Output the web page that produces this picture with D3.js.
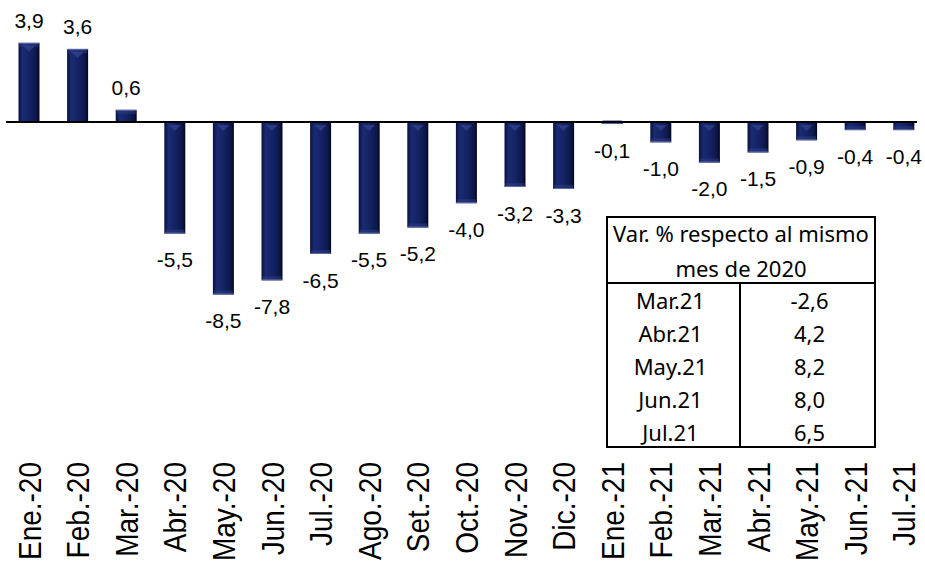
<!DOCTYPE html>
<html>
<head>
<meta charset="utf-8">
<script src="https://cdn.jsdelivr.net/npm/d3@7"></script>
<style>
  body { margin: 0; background: #fff; }
  svg { display: block; }
</style>
</head>
<body>
<div id="chart-area"></div>
<script>
// monthly variation, %
const categories = ["Ene.-20", "Feb.-20", "Mar.-20", "Abr.-20", "May.-20", "Jun.-20", "Jul.-20",
  "Ago.-20", "Set.-20", "Oct.-20", "Nov.-20", "Dic.-20", "Ene.-21", "Feb.-21", "Mar.-21",
  "Abr.-21", "May.-21", "Jun.-21", "Jul.-21"]
const values = [3.9, 3.6, 0.6, -5.5, -8.5, -7.8, -6.5, -5.5, -5.2, -4.0, -3.2, -3.3,
  -0.1, -1.0, -2.0, -1.5, -0.9, -0.4, -0.4]

// inset table
const tableTitle = ["Var. % respecto al mismo", "mes de 2020"]
const tableMonths = ["Mar.21", "Abr.21", "May.21", "Jun.21", "Jul.21"]
const tableValues = [-2.6, 4.2, 8.2, 8.0, 6.5]

const WIDTH = 925
const HEIGHT = 562

const locale = d3.formatLocale({ decimal: ",", thousands: ".", grouping: [3], currency: ["", ""], minus: "-" })
const fmt = locale.format(".1f")

const svg = d3.select("#chart-area").append("svg")
  .attr("width", WIDTH)
  .attr("height", HEIGHT)

const defs = svg.append("defs")
const grad = defs.append("linearGradient")
  .attr("id", "barGrad")
  .attr("x1", "0%").attr("x2", "100%")
  .attr("y1", "0%").attr("y2", "0%")
grad.append("stop").attr("offset", "0%").attr("stop-color", "#0a1140")
grad.append("stop").attr("offset", "20%").attr("stop-color", "#1a2b72")
grad.append("stop").attr("offset", "55%").attr("stop-color", "#142263")
grad.append("stop").attr("offset", "85%").attr("stop-color", "#0c174a")
grad.append("stop").attr("offset", "100%").attr("stop-color", "#03061c")

const x = d3.scaleBand()
  .domain(categories)
  .range([4.7, 928.1])
  .paddingInner(0.568)
  .paddingOuter(0.284)

const y = d3.scaleLinear()
  .domain([-10, 4])
  .range([325, 40.8])

const data = categories.map(function(c, i) { return { name: c, value: values[i] } })

const g = svg.append("g")

// bars
const bars = g.selectAll("g.bar")
  .data(data)
  .enter().append("g")
  .attr("class", "bar")

bars.append("rect")
  .attr("x", function(d) { return x(d.name) })
  .attr("y", function(d) { return Math.min(y(d.value), y(0)) })
  .attr("width", x.bandwidth())
  .attr("height", function(d) { return Math.abs(y(d.value) - y(0)) })
  .attr("fill", "url(#barGrad)")

// bevel cap at the far end of the bar
bars.append("rect")
  .attr("x", function(d) { return x(d.name) + 1 })
  .attr("y", function(d) { return d.value >= 0 ? y(d.value) : y(d.value) - 4 })
  .attr("width", x.bandwidth() - 2)
  .attr("height", function(d) { return Math.min(4, Math.abs(y(d.value) - y(0))) })
  .attr("fill", "#2f3f88")
  .attr("opacity", 0.5)

// thin light edge at the far end
bars.append("line")
  .attr("x1", function(d) { return x(d.name) })
  .attr("x2", function(d) { return x(d.name) + x.bandwidth() })
  .attr("y1", function(d) { return d.value >= 0 ? y(d.value) + 0.5 : y(d.value) - 0.5 })
  .attr("y2", function(d) { return d.value >= 0 ? y(d.value) + 0.5 : y(d.value) - 0.5 })
  .attr("stroke", "#6d7bb0")
  .attr("stroke-width", 1)
  .attr("opacity", 0.8)

// small chevron near the zero end
bars.filter(function(d) { return Math.abs(y(d.value) - y(0)) > 14 })
  .append("path")
  .attr("d", function(d) {
    const cx = x(d.name) + x.bandwidth() / 2
    const y0 = d.value >= 0 ? y(d.value) + 3 : y(0) + 3
    return "M" + (cx - 6) + "," + y0 + "L" + (cx + 6) + "," + y0 + "L" + cx + "," + (y0 + 6) + "Z"
  })
  .attr("fill", "#3a4b94")
  .attr("opacity", 0.6)

// zero line
g.append("line")
  .attr("x1", 6)
  .attr("x2", 917)
  .attr("y1", y(0))
  .attr("y2", y(0))
  .attr("stroke", "#000")
  .attr("stroke-width", 2)

// value labels
g.selectAll("text.value")
  .data(data)
  .enter().append("text")
  .attr("class", "value")
  .attr("x", function(d) { return x(d.name) + x.bandwidth() / 2 })
  .attr("y", function(d) { return d.value >= 0 ? y(d.value) - 22.5 : y(d.value) + 26 })
  .attr("dy", "0.36em")
  .attr("text-anchor", "middle")
  .attr("font-family", "'Liberation Sans', Arial, sans-serif")
  .attr("font-size", "21px")
  .attr("fill", "#000")
  .text(function(d) { return fmt(d.value) })

// category labels, rotated
const xAxis = g.append("g").attr("class", "x axis")
xAxis.selectAll("text")
  .data(categories)
  .enter().append("text")
  .attr("transform", function(d) { return "translate(" + (x(d) + x.bandwidth() / 2) + ", 462) rotate(-90) scale(1, 1.15)" })
  .attr("dy", "0.36em")
  .attr("text-anchor", "end")
  .attr("font-family", "'Liberation Sans', Arial, sans-serif")
  .attr("font-size", "28px")
  .attr("fill", "#000")
  .text(function(d) { return d })

// inset table
const T = { LEFT: 607, RIGHT: 875, TOP: 217, SPLIT: 283, BOTTOM: 447, COL: 740 }
const rowH = (T.BOTTOM - T.SPLIT) / tableMonths.length
const tg = svg.append("g").attr("class", "table")
  .attr("font-family", "'Noto Sans', 'Open Sans', sans-serif")
  .attr("font-size", "22px")
  .attr("fill", "#000")

tg.append("rect")
  .attr("x", T.LEFT).attr("y", T.TOP)
  .attr("width", T.RIGHT - T.LEFT).attr("height", T.BOTTOM - T.TOP)
  .attr("fill", "#fff").attr("stroke", "#000").attr("stroke-width", 2)
tg.append("line")
  .attr("x1", T.LEFT).attr("x2", T.RIGHT)
  .attr("y1", T.SPLIT).attr("y2", T.SPLIT)
  .attr("stroke", "#000").attr("stroke-width", 2)
tg.append("line")
  .attr("x1", T.COL).attr("x2", T.COL)
  .attr("y1", T.SPLIT).attr("y2", T.BOTTOM)
  .attr("stroke", "#000").attr("stroke-width", 2)

tg.selectAll("text.title")
  .data(tableTitle)
  .enter().append("text")
  .attr("class", "title")
  .attr("x", (T.LEFT + T.RIGHT) / 2)
  .attr("y", function(d, i) { return T.TOP + 17 + i * 35 })
  .attr("dy", "0.36em")
  .attr("text-anchor", "middle")
  .text(function(d) { return d })

tg.selectAll("text.month")
  .data(tableMonths)
  .enter().append("text")
  .attr("class", "month")
  .attr("x", (T.LEFT + T.COL) / 2 - 3)
  .attr("y", function(d, i) { return T.SPLIT + rowH * (i + 0.5) + 2 })
  .attr("dy", "0.36em")
  .attr("text-anchor", "middle")
  .text(function(d) { return d })

tg.selectAll("text.tval")
  .data(tableValues)
  .enter().append("text")
  .attr("class", "tval")
  .attr("x", (T.COL + T.RIGHT) / 2 + 2)
  .attr("y", function(d, i) { return T.SPLIT + rowH * (i + 0.5) + 2 })
  .attr("dy", "0.36em")
  .attr("text-anchor", "middle")
  .text(function(d) { return fmt(d) })
</script>
</body>
</html>
